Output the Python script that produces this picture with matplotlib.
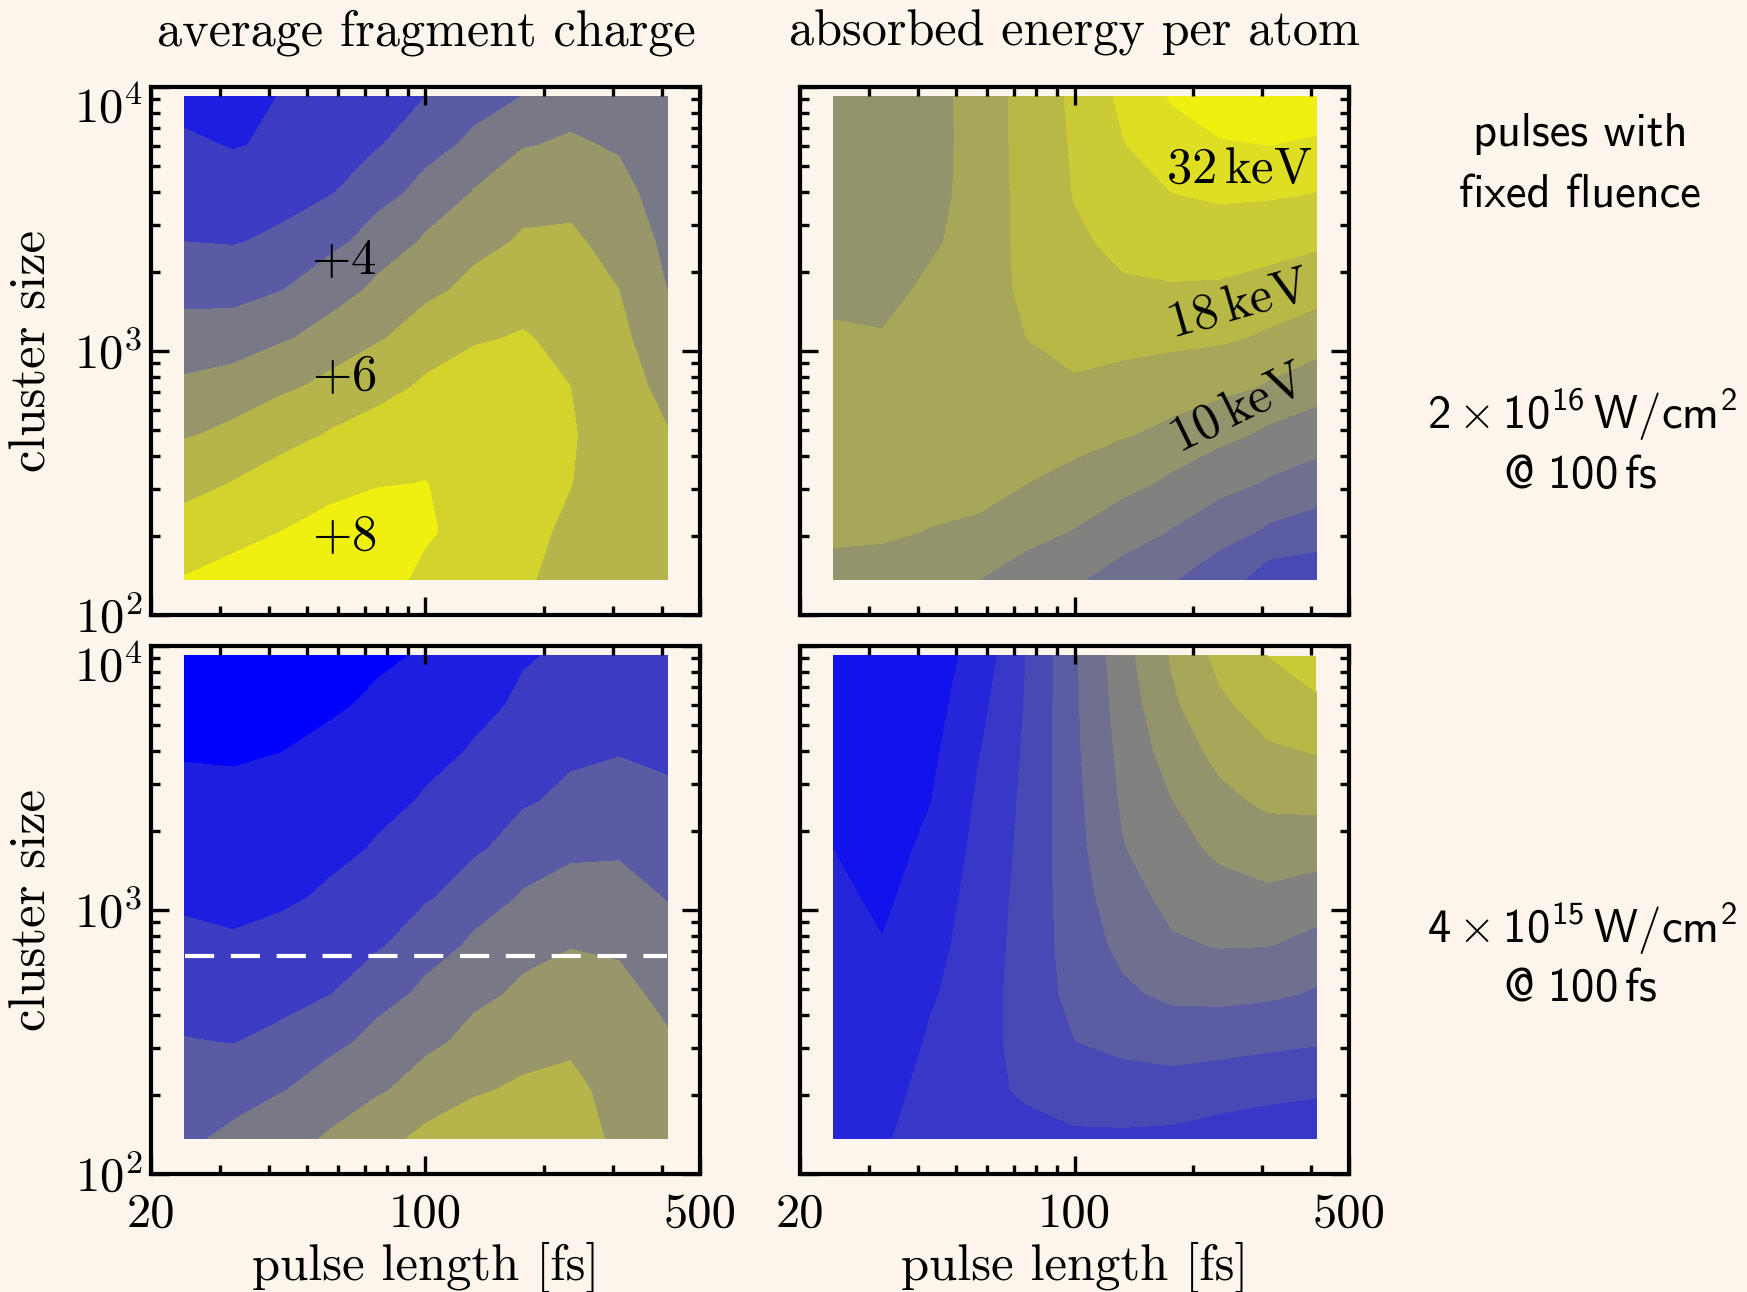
import numpy as np
import matplotlib
matplotlib.use('Agg')
import matplotlib.pyplot as plt
from matplotlib.colors import LinearSegmentedColormap
from matplotlib.ticker import FixedLocator, NullFormatter

plt.rcParams['font.family'] = 'cmr10'
plt.rcParams['mathtext.fontset'] = 'custom'
plt.rcParams['mathtext.rm'] = 'cmr10'
plt.rcParams['mathtext.it'] = 'cmmi10'
plt.rcParams['mathtext.bf'] = 'cmb10'
plt.rcParams['mathtext.sf'] = 'cmss10'
plt.rcParams['mathtext.tt'] = 'cmtt10'
plt.rcParams['mathtext.cal'] = 'cmsy10'
plt.rcParams['axes.formatter.use_mathtext'] = True

BG = '#fcf5eb'

# grid of the simulations (pulse length in fs, cluster size in atoms)
pulse_fs = [24.4, 32.4, 43, 57, 75.6, 100, 133, 177, 234, 311, 413]
cluster_size = [136, 207, 315, 481, 733, 1116, 1700, 2590, 3945, 6010, 9170]

# average fragment charge, contour-level units; rows = cluster_size, cols = pulse_fs
charge_hi = [
    [8.05, 8.3, 8.5, 8.7, 8.3, 7.8, 7.5, 7.1, 6.7, 6.45, 6.3],
    [7.37, 7.69, 8.0, 8.3, 8.5, 8.12, 7.6, 7.2, 6.85, 6.5, 6.25],
    [6.67, 7.04, 7.38, 7.70, 7.94, 8.02, 7.65, 7.3, 7.02, 6.5, 6.15],
    [5.92, 6.23, 6.67, 7.07, 7.35, 7.59, 7.5, 7.3, 7.08, 6.45, 6.05],
    [5.16, 5.38, 5.82, 6.24, 6.69, 7.14, 7.35, 7.25, 7.0, 6.35, 5.73],
    [4.39, 4.48, 4.89, 5.37, 5.91, 6.48, 6.92, 7.07, 6.75, 6.2, 5.36],
    [3.67, 3.64, 3.98, 4.54, 5.22, 5.76, 6.28, 6.63, 6.45, 6.0, 4.99],
    [3.0, 2.94, 3.19, 3.74, 4.43, 5.13, 5.67, 6.13, 6.15, 5.64, 4.75],
    [2.57, 2.44, 2.62, 2.95, 3.66, 4.34, 5.07, 5.56, 5.71, 5.27, 4.55],
    [2.13, 1.95, 2.14, 2.47, 2.94, 3.62, 4.26, 4.95, 5.12, 4.9, 4.4],
    [1.7, 1.6, 2.05, 2.1, 2.2, 3.0, 3.5, 4.03, 4.6, 4.5, 4.3],
]
charge_lo = [
    [3.85, 4.2, 4.7, 5.1, 5.75, 6.2, 6.4, 6.5, 6.6, 5.7, 5.5],
    [3.46, 3.6, 3.96, 4.46, 4.88, 5.46, 5.92, 6.13, 6.25, 5.6, 5.35],
    [3.04, 2.98, 3.22, 3.74, 4.31, 4.76, 5.32, 5.66, 5.81, 5.45, 5.1],
    [2.62, 2.54, 2.68, 2.97, 3.62, 4.22, 4.74, 5.19, 5.39, 5.25, 4.73],
    [2.2, 2.09, 2.24, 2.54, 2.9, 3.55, 4.18, 4.66, 4.96, 4.86, 4.34],
    [1.84, 1.77, 1.87, 2.12, 2.49, 2.89, 3.49, 4.09, 4.38, 4.36, 3.95],
    [1.54, 1.48, 1.58, 1.78, 2.08, 2.48, 2.86, 3.44, 3.8, 3.86, 3.57],
    [1.23, 1.19, 1.29, 1.48, 1.76, 2.08, 2.48, 2.88, 3.24, 3.4, 3.18],
    [0.93, 0.9, 1.0, 1.18, 1.45, 1.74, 2.09, 2.52, 2.8, 2.95, 2.8],
    [0.62, 0.6, 0.72, 0.88, 1.14, 1.42, 1.72, 2.17, 2.45, 2.55, 2.45],
    [0.3, 0.3, 0.45, 0.58, 0.85, 1.1, 1.36, 1.9, 2.2, 2.25, 2.1],
]
# absorbed energy per atom, log-spaced contour-level units
energy_hi = [
    [8.8, 8.75, 8.55, 8.0, 7.6, 7.1, 6.6, 6.05, 5.45, 4.5, 4.4],
    [9.12, 9.1, 8.97, 8.85, 8.3, 7.95, 7.45, 6.94, 6.4, 5.85, 5.52],
    [9.3, 9.35, 9.3, 9.3, 9.0, 8.7, 8.28, 7.8, 7.33, 6.9, 6.58],
    [9.4, 9.4, 9.48, 9.52, 9.4, 9.35, 9.06, 8.75, 8.27, 7.8, 7.46],
    [9.3, 9.3, 9.5, 9.62, 9.72, 9.9, 9.7, 9.5, 9.3, 8.9, 8.44],
    [9.1, 9.05, 9.4, 9.65, 10.0, 10.3, 10.3, 10.23, 10.13, 9.85, 9.48],
    [8.8, 8.75, 9.18, 9.62, 10.18, 10.6, 10.88, 10.92, 10.88, 10.67, 10.38],
    [8.6, 8.55, 8.84, 9.5, 10.28, 10.85, 11.25, 11.45, 11.5, 11.38, 11.17],
    [8.5, 8.45, 8.66, 9.46, 10.33, 11.04, 11.6, 11.99, 12.16, 12.12, 11.97],
    [8.45, 8.4, 8.6, 9.48, 10.35, 11.12, 11.96, 12.55, 12.93, 13.0, 12.85],
    [8.45, 8.4, 8.6, 9.49, 10.36, 11.2, 12.23, 13.1, 13.45, 13.65, 13.7],
]
energy_lo = [
    [2.45, 2.88, 3.5, 3.8, 3.7, 3.85, 3.85, 3.8, 3.6, 3.4, 3.3],
    [2.4, 2.65, 3.35, 3.75, 4.15, 4.5, 4.6, 4.6, 4.45, 4.3, 4.16],
    [2.35, 2.45, 3.12, 3.7, 4.32, 4.98, 5.25, 5.45, 5.37, 5.22, 5.08],
    [2.3, 2.25, 2.88, 3.65, 4.38, 5.35, 5.85, 6.2, 6.27, 6.17, 5.89],
    [2.25, 2.03, 2.65, 3.55, 4.38, 5.5, 6.25, 6.88, 7.05, 7.02, 6.7],
    [2.15, 1.85, 2.43, 3.45, 4.35, 5.6, 6.6, 7.3, 7.63, 7.82, 7.55],
    [1.99, 1.7, 2.2, 3.3, 4.3, 5.7, 6.95, 7.65, 8.2, 8.5, 8.45],
    [1.75, 1.55, 1.98, 3.15, 4.25, 5.75, 7.15, 7.98, 8.75, 9.2, 9.27],
    [1.6, 1.4, 1.8, 2.95, 4.18, 5.82, 7.32, 8.45, 9.3, 9.87, 10.03],
    [1.45, 1.3, 1.62, 2.72, 4.1, 5.85, 7.5, 8.85, 9.83, 10.47, 10.83],
    [1.35, 1.2, 1.45, 2.45, 4.03, 5.88, 7.68, 9.1, 10.3, 11.0, 11.6],
]
cut_size = 670

charge_levels = np.arange(0, 10)
energy_levels = np.arange(0, 15)
cmap = LinearSegmentedColormap.from_list('blue_yellow', ['#0000ff', '#f0f010'])
charge_colors = cmap(np.linspace(0, 1, len(charge_levels) - 1))
energy_colors = cmap(np.linspace(0, 1, len(energy_levels) - 1))

fig = plt.figure(figsize=(17.47, 12.92), dpi=100, facecolor=BG)

W, H = 1747, 1292
col_x = [151, 800]
row_top = [87, 646]
aw, ah = 549, 528

axes = {}
for r in range(2):
    for c in range(2):
        ax = fig.add_axes([col_x[c] / W, 1 - (row_top[r] + ah) / H, aw / W, ah / H])
        ax.set_facecolor(BG)
        axes[(r, c)] = ax

panels = {
    (0, 0): (charge_hi, charge_levels, charge_colors),
    (1, 0): (charge_lo, charge_levels, charge_colors),
    (0, 1): (energy_hi, energy_levels, energy_colors),
    (1, 1): (energy_lo, energy_levels, energy_colors),
}

for (r, c), ax in axes.items():
    z, lev, cols = panels[(r, c)]
    ax.contourf(pulse_fs, cluster_size, np.array(z), levels=lev, colors=cols)
    ax.set_xscale('log')
    ax.set_yscale('log')
    ax.set_xlim(20, 500)
    ax.set_ylim(100, 1e4)
    ax.xaxis.set_major_locator(FixedLocator([20, 100, 500]))
    ax.xaxis.set_minor_locator(FixedLocator([30, 40, 50, 60, 70, 80, 90, 200, 300, 400]))
    ax.yaxis.set_major_locator(FixedLocator([100, 1000, 10000]))
    ax.yaxis.set_minor_locator(FixedLocator([k * d for d in (100, 1000) for k in range(2, 10)]))
    ax.xaxis.set_minor_formatter(NullFormatter())
    ax.yaxis.set_minor_formatter(NullFormatter())
    ax.set_xticklabels(['20', '100', '500'])
    ax.set_yticklabels([r'$10^2$', r'$10^3$', r'$10^4$'])
    ax.get_yticklabels()[2].set_va('top')
    ax.tick_params(which='both', direction='in', top=True, right=True,
                   width=2.4, labelsize=35, colors='black')
    ax.tick_params(which='major', length=13)
    ax.tick_params(which='minor', length=6.5)
    ax.tick_params(axis='x', pad=13)
    ax.tick_params(axis='y', pad=6)
    for s in ax.spines.values():
        s.set_linewidth(3)
    ax.tick_params(labelbottom=(r == 1), labelleft=(c == 0))
    if c == 0:
        ax.set_ylabel('cluster size', fontsize=36.5, va='center')
        ax.yaxis.set_label_coords((33 - 151) / aw, 0.5)
    if r == 1:
        ax.set_xlabel('pulse length [fs]', fontsize=36.5, va='center')
        ax.xaxis.set_label_coords(0.5, (1174 - 1267) / ah)

# contour annotations
ax = axes[(0, 0)]
ax.text(62, 2190, r'$+4$', fontsize=36.5, ha='center', va='center')
ax.text(62, 798, r'$+6$', fontsize=36.5, ha='center', va='center')
ax.text(62, 197, r'$+8$', fontsize=36.5, ha='center', va='center')
ax = axes[(0, 1)]
ax.text(262, 4850, r'$32\,\mathrm{keV}$', fontsize=36.5, ha='center', va='center')
ax.text(262, 1493, r'$18\,\mathrm{keV}$', fontsize=36.5, ha='center', va='center', rotation=16)
ax.text(262, 603, r'$10\,\mathrm{keV}$', fontsize=36.5, ha='center', va='center', rotation=26)

axes[(1, 0)].plot([pulse_fs[0], pulse_fs[-1]], [cut_size, cut_size], color='white',
                  lw=3, dashes=(7, 4))

fig.text(426 / W, 1 - 33 / H, 'average fragment charge', fontsize=36.2, ha='center', va='center')
fig.text(1074 / W, 1 - 33 / H, 'absorbed energy per atom', fontsize=36.2, ha='center', va='center')

sans = dict(family='cmss10', fontsize=33.5, ha='center', va='center')
fig.text(1580 / W, 1 - 134 / H, 'pulses with', **sans)
fig.text(1580 / W, 1 - 195 / H, 'fixed fluence', **sans)
fig.text(1582 / W, 1 - 414 / H, r'$\mathsf{2\times10^{16}\,W/cm^2}$', **sans)
fig.text(1580 / W, 1 - 476 / H, r'$\mathsf{@\ 100\,fs}$', **sans)
fig.text(1582 / W, 1 - 928 / H, r'$\mathsf{4\times10^{15}\,W/cm^2}$', **sans)
fig.text(1580 / W, 1 - 989 / H, r'$\mathsf{@\ 100\,fs}$', **sans)

fig.savefig('out.png', dpi=100, facecolor=BG)
